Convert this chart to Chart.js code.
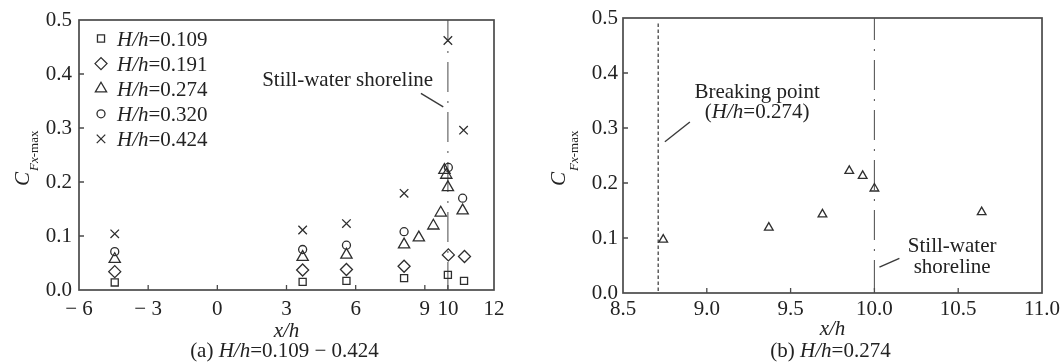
<!DOCTYPE html>
<html>
<head>
<meta charset="utf-8">
<script src="https://cdn.jsdelivr.net/npm/chart.js@4.4.0/dist/chart.umd.min.js"></script>
<style>
  body { margin: 0; background: #fff; }
  #wrap { position: relative; width: 1064px; height: 363px; }
  canvas { position: absolute; top: 0; }
</style>
</head>
<body>
<div id="wrap">
  <canvas id="chartA" width="530" height="363" style="left:0"></canvas>
  <canvas id="chartB" width="534" height="363" style="left:530px"></canvas>
</div>
<script>
// wave height ratios H/h and the marker used for each
const waveRatios = ['0.109', '0.191', '0.274', '0.320', '0.424'];
const markers = ['rect', 'rectRot', 'triangle', 'circle', 'crossRot'];
const markerSize = [5, 6, 6.5, 4, 6];

// x/h positions and peak C_Fx-max per series
const x109 = [-4.45, 3.7, 5.6, 8.1, 10.0, 10.7];
const c109 = [0.014, 0.015, 0.017, 0.022, 0.028, 0.017];
const x191 = [-4.45, 3.7, 5.6, 8.1, 10.02, 10.72];
const c191 = [0.034, 0.037, 0.038, 0.044, 0.065, 0.062];
const x274 = [-4.45, 3.7, 5.6, 8.1, 8.74, 9.37, 9.69, 9.85, 9.93, 10.0, 10.64];
const c274 = [0.057, 0.061, 0.065, 0.084, 0.097, 0.119, 0.143, 0.222, 0.213, 0.19, 0.147];
const x320 = [-4.45, 3.7, 5.6, 8.1, 10.02, 10.64];
const c320 = [0.071, 0.075, 0.083, 0.108, 0.227, 0.17];
const x424 = [-4.45, 3.7, 5.6, 8.1, 10.0, 10.68];
const c424 = [0.104, 0.111, 0.123, 0.179, 0.462, 0.296];

// axis ticks
const xTicksA = [-6, -3, 0, 3, 6, 9, 10, 12];
const xTicksB = [8.5, 9.0, 9.5, 10.0, 10.5, 11.0];
const yTicks = [0, 0.1, 0.2, 0.3, 0.4, 0.5];

const shorelineX = 10.0;
const breakingX = 8.71;

const serif = '"Liberation Serif", "Times New Roman", serif';
const ink = '#2e2e2e';

const font = (size, italic) => (italic ? 'italic ' : '') + size + 'px ' + serif;

// draws a run of text pieces [text, italic, size?] side by side
function richText(ctx, parts, x, y, align) {
  let total = 0;
  const widths = parts.map(p => {
    ctx.font = font(p[2] || 21, p[1]);
    const w = ctx.measureText(p[0]).width;
    total += w;
    return w;
  });
  let cx = align === 'center' ? x - total / 2 : x;
  ctx.textAlign = 'left';
  ctx.textBaseline = 'alphabetic';
  parts.forEach((p, i) => {
    ctx.font = font(p[2] || 21, p[1]);
    ctx.fillText(p[0], cx, y);
    cx += widths[i];
  });
}

function symbol(ctx, style, r, x, y) {
  ctx.fillStyle = 'rgba(0,0,0,0)';
  ctx.strokeStyle = ink;
  ctx.lineWidth = 1.3;
  Chart.helpers.drawPoint(ctx, { pointStyle: style, radius: r, rotation: 0, borderWidth: 1.3 }, x, y);
}

const panelDecor = {
  id: 'panelDecor',
  beforeDatasetsDraw(chart, args, o) {
    const { ctx, chartArea: a, scales: { x, y } } = chart;
    ctx.save();
    o.vlines.forEach(v => {
      const px = x.getPixelForValue(v.x);
      ctx.beginPath();
      ctx.setLineDash(v.dash);
      ctx.lineDashOffset = v.offset || 0;
      ctx.lineWidth = v.width;
      ctx.strokeStyle = v.color;
      ctx.moveTo(px, y.getPixelForValue(v.top));
      ctx.lineTo(px, a.bottom);
      ctx.stroke();
    });
    ctx.restore();
  },
  afterDatasetsDraw(chart, args, o) {
    const { ctx, chartArea: a, scales: { x, y } } = chart;
    ctx.save();

    // box and inward ticks
    ctx.strokeStyle = '#4a4a4a';
    ctx.lineWidth = 1.7;
    ctx.strokeRect(a.left, a.top, a.right - a.left, a.bottom - a.top);
    ctx.lineWidth = 1.3;
    ctx.beginPath();
    x.ticks.forEach(t => {
      if (t.value <= x.min || t.value >= x.max) return;
      const px = x.getPixelForValue(t.value);
      ctx.moveTo(px, a.bottom);
      ctx.lineTo(px, a.bottom - 5);
    });
    y.ticks.forEach(t => {
      if (t.value <= y.min || t.value >= y.max) return;
      const py = y.getPixelForValue(t.value);
      ctx.moveTo(a.left, py);
      ctx.lineTo(a.left + 5, py);
    });
    ctx.stroke();

    // leader lines for notes
    ctx.strokeStyle = '#3a3a3a';
    ctx.lineWidth = 1.4;
    o.leaders.forEach(l => {
      ctx.beginPath();
      ctx.moveTo(x.getPixelForValue(l[0]), y.getPixelForValue(l[1]));
      ctx.lineTo(x.getPixelForValue(l[2]), y.getPixelForValue(l[3]));
      ctx.stroke();
    });

    ctx.fillStyle = '#222';
    o.notes.forEach(n => {
      richText(ctx, n.parts, x.getPixelForValue(n.x), y.getPixelForValue(n.y), 'center');
    });

    // legend
    if (o.legend) {
      waveRatios.forEach((r, i) => {
        const cy = a.top + 18.5 + i * 25.1;
        symbol(ctx, markers[i], markerSize[i], a.left + 22, cy);
        ctx.fillStyle = '#222';
        richText(ctx, [['H/h', true], ['=' + r, false]], a.left + 38, cy + 7, 'left');
      });
    }

    // axis titles and caption
    ctx.fillStyle = '#222';
    const mid = (a.left + a.right) / 2;
    richText(ctx, [['x/h', true]], mid, o.xTitleY, 'center');
    richText(ctx, o.caption, mid - 2, 357, 'center');

    ctx.translate(o.yTitleX, 186);
    ctx.rotate(-Math.PI / 2);
    ctx.font = font(21, true);
    ctx.textAlign = 'left';
    ctx.textBaseline = 'alphabetic';
    ctx.fillText('C', 0, 0);
    const wC = ctx.measureText('C').width;
    ctx.font = font(13, true);
    ctx.fillText('Fx', wC + 1, o.subDrop);
    const wF = ctx.measureText('Fx').width;
    ctx.font = font(13, false);
    ctx.fillText('-max', wC + 1 + wF, o.subDrop);

    ctx.restore();
  }
};

function scatterSet(xs, ys, i, r, keep) {
  const pts = xs.map((v, k) => ({ x: v, y: ys[k] })).filter(keep || (() => true));
  return {
    label: 'H/h=' + waveRatios[i],
    data: pts,
    pointStyle: markers[i],
    pointRadius: r,
    pointHoverRadius: r,
    pointBorderWidth: 1.3,
    borderColor: ink,
    backgroundColor: 'rgba(0,0,0,0)',
    showLine: false
  };
}

function scales(xMin, xMax, xTicks, xFmt, yWidth, xHeight, xPad, yPad) {
  return {
    x: {
      type: 'linear', min: xMin, max: xMax,
      afterBuildTicks: axis => { axis.ticks = xTicks.map(v => ({ value: v })); },
      afterFit: axis => { axis.height = xHeight; },
      grid: { display: false, drawTicks: false },
      border: { display: false },
      ticks: { font: { family: serif, size: 21 }, color: '#222', padding: xPad, maxRotation: 0, autoSkip: false, callback: xFmt }
    },
    y: {
      type: 'linear', min: 0, max: 0.5,
      afterBuildTicks: axis => { axis.ticks = yTicks.map(v => ({ value: v })); },
      afterFit: axis => { axis.width = yWidth; },
      grid: { display: false, drawTicks: false },
      border: { display: false },
      ticks: { font: { family: serif, size: 21 }, color: '#222', padding: yPad, callback: v => v.toFixed(1) }
    }
  };
}

const shoreDash = { x: shorelineX, top: 0.5, dash: [30, 9, 2, 9], offset: 8, width: 1.1, color: '#5a5a5a' };

new Chart(document.getElementById('chartA'), {
  type: 'scatter',
  data: {
    datasets: [
      scatterSet(x109, c109, 0, markerSize[0]),
      scatterSet(x191, c191, 1, markerSize[1]),
      scatterSet(x274, c274, 2, markerSize[2]),
      scatterSet(x320, c320, 3, markerSize[3]),
      scatterSet(x424, c424, 4, markerSize[4])
    ]
  },
  options: {
    responsive: false,
    animation: false,
    layout: { padding: { top: 20, right: 36, bottom: 0, left: 0 } },
    scales: scales(-6, 12, xTicksA, v => (v < 0 ? '\u2212 ' + (-v) : String(v)), 79, 73, 7, 7),
    plugins: {
      legend: { display: false },
      tooltip: { enabled: false },
      panelDecor: {
        vlines: [shoreDash],
        leaders: [[8.83, 0.364, 9.8, 0.339]],
        notes: [{ x: 5.65, y: 0.378, parts: [['Still-water shoreline', false]] }],
        legend: true,
        xTitleY: 337,
        caption: [['(a) ', false], ['H/h', true], ['=0.109 \u2212 0.424', false]],
        yTitleX: 29,
        subDrop: 9
      }
    }
  },
  plugins: [panelDecor]
});

new Chart(document.getElementById('chartB'), {
  type: 'scatter',
  data: {
    datasets: [scatterSet(x274, c274, 2, 5, p => p.x >= 8.5)]
  },
  options: {
    responsive: false,
    animation: false,
    layout: { padding: { top: 18, right: 19, bottom: 0, left: 0 } },
    scales: scales(8.5, 11, xTicksB, v => v.toFixed(1), 93, 70, 4, 5),
    plugins: {
      legend: { display: false },
      tooltip: { enabled: false },
      panelDecor: {
        vlines: [
          { x: breakingX, top: 0.49, dash: [3.5, 2.5], width: 1.3, color: '#444' },
          shoreDash
        ],
        leaders: [[8.75, 0.275, 8.899, 0.311], [10.03, 0.047, 10.149, 0.063]],
        notes: [
          { x: 9.3, y: 0.355, parts: [['Breaking point', false]] },
          { x: 9.3, y: 0.318, parts: [['(', false], ['H/h', true], ['=0.274)', false]] },
          { x: 10.464, y: 0.0745, parts: [['Still-water', false]] },
          { x: 10.464, y: 0.036, parts: [['shoreline', false]] }
        ],
        legend: false,
        xTitleY: 335,
        caption: [['(b) ', false], ['H/h', true], ['=0.274', false]],
        yTitleX: 35,
        subDrop: 13
      }
    }
  },
  plugins: [panelDecor]
});
</script>
</body>
</html>
